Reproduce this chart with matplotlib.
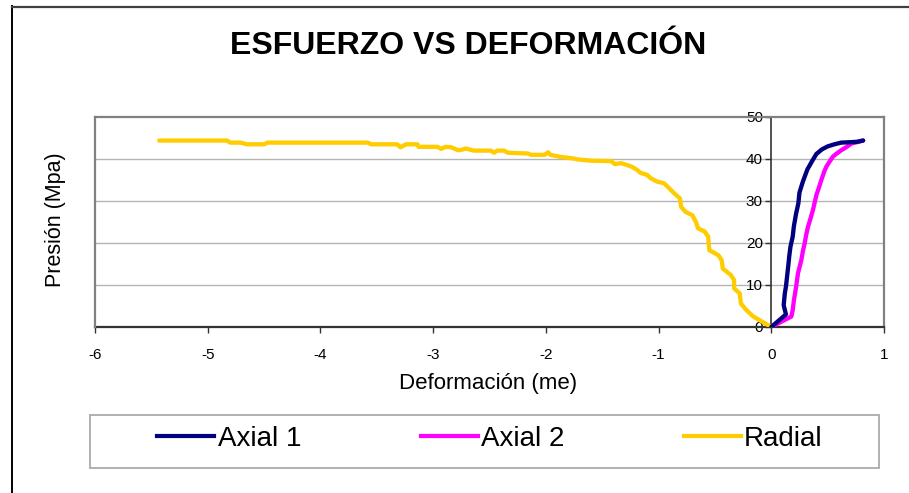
import matplotlib
matplotlib.use('Agg')
import matplotlib.pyplot as plt
from matplotlib.lines import Line2D
from matplotlib.patches import Rectangle

plt.rcParams['font.family'] = ['Liberation Sans', 'DejaVu Sans']
plt.rcParams['axes.unicode_minus'] = False

# Radial strain (negative) vs pressure
radial_x = [-5.43, -4.83, -4.80, -4.71, -4.65, -4.50, -4.47, -3.58, -3.55, -3.32,
            -3.29, -3.24, -3.14, -3.13, -2.96, -2.93, -2.89, -2.84, -2.78, -2.76,
            -2.71, -2.64, -2.49, -2.46, -2.43, -2.37, -2.34, -2.16, -2.13, -2.01,
            -1.98, -1.96, -1.87, -1.75, -1.72, -1.60, -1.42, -1.39, -1.33, -1.24,
            -1.19, -1.16, -1.10, -1.07, -1.01, -0.95, -0.92, -0.86, -0.81, -0.80,
            -0.76, -0.70, -0.67, -0.65, -0.59, -0.56, -0.55, -0.47, -0.44, -0.43,
            -0.36, -0.33, -0.33, -0.28, -0.27, -0.22, -0.16, 0.0]
radial_y = [44.4, 44.4, 43.9, 43.9, 43.5, 43.5, 43.9, 43.9, 43.5, 43.5,
            42.8, 43.5, 43.5, 42.9, 42.9, 42.4, 42.9, 42.8, 42.1, 42.1,
            42.5, 42.0, 42.0, 41.5, 42.0, 42.0, 41.5, 41.3, 41.0, 41.0,
            41.6, 41.0, 40.5, 40.1, 39.9, 39.6, 39.5, 38.8, 39.0, 38.2,
            37.4, 36.7, 36.2, 35.4, 34.6, 34.2, 33.4, 31.8, 30.6, 28.6,
            27.4, 26.6, 25.1, 23.5, 22.7, 21.5, 18.3, 17.1, 15.9, 13.9,
            12.4, 11.2, 9.2, 8.0, 5.6, 4.0, 2.5, 0.0]

# Axial gauge 1
axial1_x = [0.0, 0.13, 0.11, 0.12, 0.13, 0.14, 0.15, 0.16, 0.17, 0.19, 0.20,
            0.22, 0.24, 0.25, 0.28, 0.32, 0.36, 0.40, 0.45, 0.50, 0.56, 0.62,
            0.70, 0.76, 0.815]
axial1_y = [0.0, 3.0, 5.2, 8.0, 9.6, 12.0, 14.4, 17.0, 19.1, 21.5, 23.9,
            27.0, 29.4, 32.0, 34.6, 37.5, 39.4, 41.2, 42.3, 43.0, 43.5, 43.9,
            44.0, 44.1, 44.4]

# Axial gauge 2
axial2_x = [0.0, 0.178, 0.19, 0.201, 0.22, 0.237, 0.267, 0.28, 0.296, 0.31,
            0.326, 0.35, 0.37, 0.40, 0.42, 0.444, 0.47, 0.489, 0.52, 0.548,
            0.58, 0.622, 0.67, 0.711, 0.76, 0.815]
axial2_y = [0.0, 2.5, 4.0, 6.4, 9.5, 12.8, 16.0, 18.0, 19.9, 22.0,
            23.9, 26.0, 27.9, 31.4, 33.0, 35.0, 37.0, 38.2, 39.5, 40.6,
            41.3, 42.1, 42.9, 43.7, 44.0, 44.4]

xticks = [-6, -5, -4, -3, -2, -1, 0, 1]
yticks = [0, 10, 20, 30, 40, 50]

fig = plt.figure(figsize=(9.09, 4.93), dpi=100)
ax = fig.add_axes([95/909, 1-327/493, (884-95)/909, (327-117)/493])

ax.plot(axial1_x, axial1_y, color='#000080', lw=3.1, solid_capstyle='round',
        solid_joinstyle='round', label='Axial 1', zorder=4)
ax.plot(axial2_x, axial2_y, color='#FF00FF', lw=3.1, solid_capstyle='round',
        solid_joinstyle='round', label='Axial 2', zorder=3)
ax.plot(radial_x, radial_y, color='#FFCC00', lw=3.1, solid_capstyle='round',
        solid_joinstyle='round', label='Radial', zorder=3)

ax.set_xlim(-6, 1)
ax.set_ylim(0, 50)
ax.set_xticks(xticks)
ax.set_yticks(yticks)
for y in yticks[1:-1]:
    ax.axhline(y, color='#b4b4b4', lw=1, zorder=1)

# frame: gray outline, dark axes through origin
for s in ['top', 'right']:
    ax.spines[s].set_color('#808080')
    ax.spines[s].set_linewidth(1.6)
ax.spines['bottom'].set_color('#333333')
ax.spines['bottom'].set_linewidth(1.6)
ax.spines['left'].set_position(('data', 0))
ax.spines['left'].set_color('#333333')
ax.spines['left'].set_linewidth(1.2)
ax.plot([-6, -6], [0, 50], color='#808080', lw=1.6, clip_on=False, zorder=5)

ax.tick_params(axis='x', direction='out', length=4, width=1, pad=11,
               labelsize=11, colors='#333333', labelcolor='black')
ax.tick_params(axis='y', direction='out', length=4, width=1, pad=2,
               labelsize=11, colors='#333333', labelcolor='black')

fig.text(55/909, 1-220/493, 'Presión (Mpa)', rotation=90, ha='center',
         va='center', fontsize=15.5)
fig.text(488/909, 1-384/493, 'Deformación (me)', ha='center', va='center',
         fontsize=16)
fig.text(468/909, 1-46/493, 'ESFUERZO VS DEFORMACIÓN', ha='center',
         va='center', fontsize=23, fontweight='bold')

# legend box
fig.patches.append(Rectangle((90/909, 1-468/493), (879-90)/909, (468-415)/493,
                             transform=fig.transFigure, fill=False,
                             edgecolor='#b0b0b0', lw=1.4))
handles = [Line2D([], [], color=c, lw=3) for c in ['#000080', '#FF00FF', '#FFCC00']]
fig.legend(handles, ['Axial 1', 'Axial 2', 'Radial'], loc='center',
           bbox_to_anchor=(490/909, 1-439/493), ncol=3, frameon=False,
           fontsize=20, handlelength=2.05, handletextpad=0.12,
           columnspacing=4.3)

# outer chart border (left and top)
fig.add_artist(Line2D([11.5/909, 11.5/909], [0, 1-6/493], color='black', lw=1.4,
                      transform=fig.transFigure))
fig.add_artist(Line2D([11.5/909, 1], [1-6.5/493, 1-6.5/493], color='#404040', lw=1.6,
                      transform=fig.transFigure))

fig.savefig('out.png', dpi=100)
